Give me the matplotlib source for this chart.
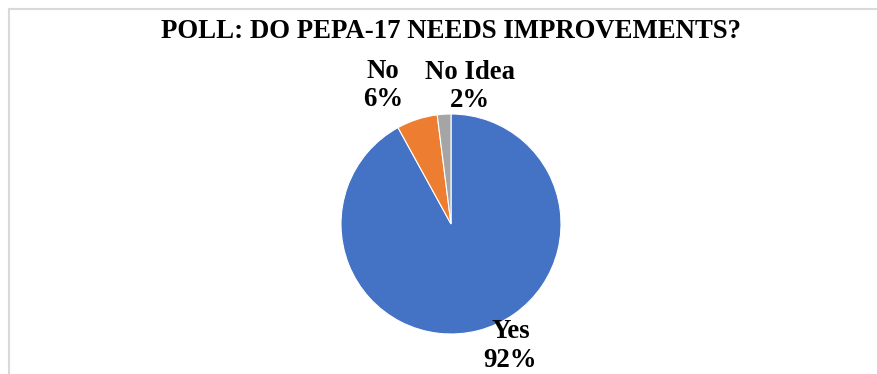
import matplotlib.pyplot as plt
from matplotlib.lines import Line2D

# data
categories = ['Yes', 'No', 'No Idea']
shares = [92, 6, 2]
colors = ['#4472C4', '#ED7D31', '#A5A5A5']

W, H = 878, 374
fig = plt.figure(figsize=(W / 100, H / 100), dpi=100)
fig.set_facecolor('white')

# chart frame (only top and left edges are visible in the crop)
fig.add_artist(Line2D([9 / W, 1], [1 - 9 / H, 1 - 9 / H], color='#D9D9D9', lw=1.5))
fig.add_artist(Line2D([9 / W, 9 / W], [0, 1 - 9 / H], color='#D9D9D9', lw=1.5))

fig.text(451 / W, 1 - 32 / H, 'POLL: DO PEPA-17 NEEDS IMPROVEMENTS?',
         ha='center', va='center', fontsize=19.3, fontweight='bold',
         family='Liberation Serif', color='black')

# pie axes: centre (451, 224) px, radius 110 px
r = 110
cx, cy = 451, H - 224
ax = fig.add_axes([(cx - r) / W, (cy - r) / H, 2 * r / W, 2 * r / H])
wedges, _ = ax.pie(shares, colors=colors, startangle=90, counterclock=False,
                   radius=1, wedgeprops=dict(edgecolor='white', linewidth=0.8))
ax.set_xlim(-1, 1)
ax.set_ylim(-1, 1)
ax.set_aspect('equal')
ax.axis('off')

# data labels, placed like Excel's best fit
label_pos = [(0.54, -1.11), (-0.62, 1.26), (0.17, 1.25)]
for cat, val, (x, y) in zip(categories, shares, label_pos):
    ax.text(x, y, f'{cat}\n{val}%', ha='center', va='center', fontsize=19.3,
            fontweight='bold', family='Liberation Serif', color='black',
            linespacing=1.2, clip_on=False)

fig.savefig('out.png', dpi=100)
